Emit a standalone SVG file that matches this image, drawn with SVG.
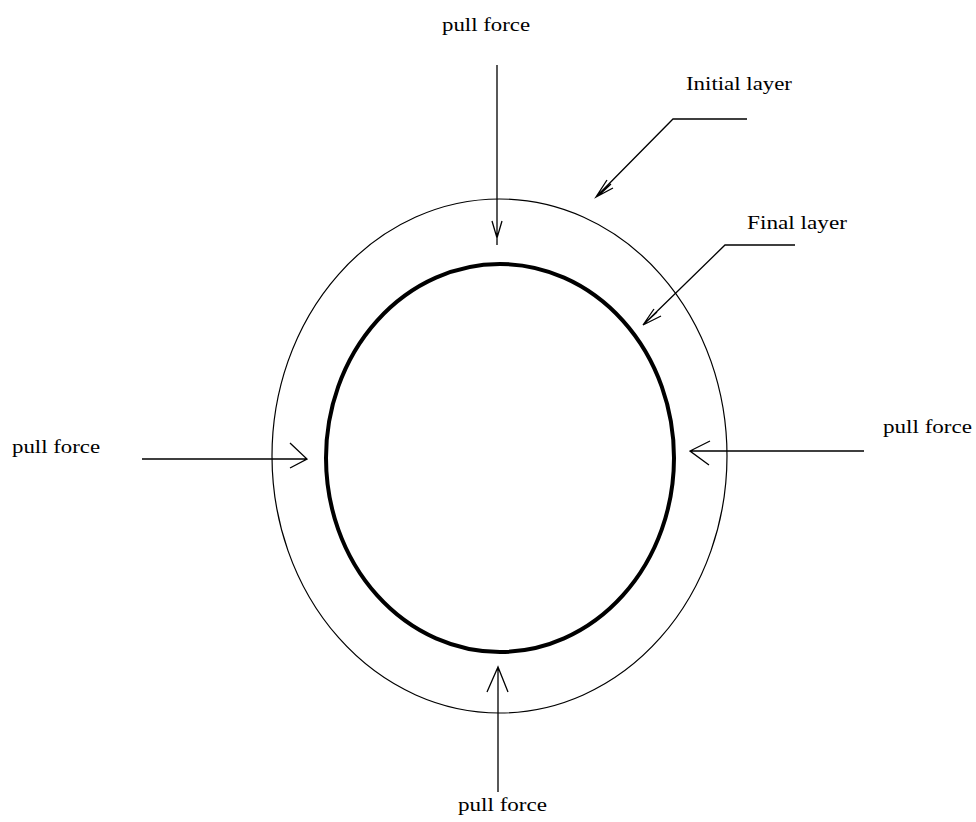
<svg xmlns="http://www.w3.org/2000/svg" width="976" height="822" viewBox="0 0 976 822">
<style>
.t{font-family:"Liberation Serif","Times New Roman",serif;font-size:19px;fill:#000}
.ln{stroke:#000;stroke-width:1.3;fill:none}
</style>
<rect width="976" height="822" fill="#fff"/>
<g id="initial-layer"><ellipse cx="499.5" cy="456" rx="227.5" ry="257" fill="none" stroke="#000" stroke-width="1.2"/></g>
<g id="final-layer"><ellipse cx="500" cy="458" rx="174" ry="194" fill="none" stroke="#000" stroke-width="4"/></g>
<g id="labels">
<text class="t" x="442" y="31" textLength="88" lengthAdjust="spacingAndGlyphs">pull force</text>
<text class="t" x="12" y="453" textLength="88" lengthAdjust="spacingAndGlyphs">pull force</text>
<text class="t" x="883" y="433" textLength="89" lengthAdjust="spacingAndGlyphs">pull force</text>
<text class="t" x="458" y="811" textLength="89" lengthAdjust="spacingAndGlyphs">pull force</text>
<text class="t" x="686" y="90" textLength="106" lengthAdjust="spacingAndGlyphs">Initial layer</text>
<text class="t" x="747" y="229" textLength="100" lengthAdjust="spacingAndGlyphs">Final layer</text>
</g>
<g id="connectors">
<path class="ln" d="M497 65V245M492 221L497 238L502 221"/>
<path class="ln" d="M498 792V667M487 692L498 667L508 692"/>
<path class="ln" d="M142 459H307M290 443L307 459L290 468"/>
<path class="ln" d="M864 451H690M710 441L690 451L709 465"/>
<path class="ln" d="M747 119H673L596 197M607 180L596 197L613 188M611 184L598 196"/>
<path class="ln" d="M795 245H725L643 325M654 309L643 325L661 316M657 312L645 323"/>
</g>
</svg>
